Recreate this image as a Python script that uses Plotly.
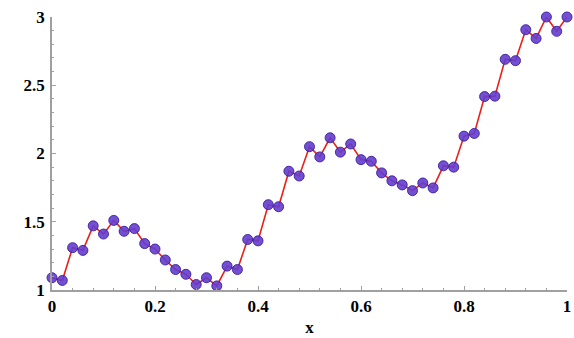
import plotly.graph_objects as go

x_vals = [round(i * 0.02, 2) for i in range(51)]
y_vals = [1.09, 1.07, 1.31, 1.29, 1.47, 1.41, 1.51, 1.43, 1.45, 1.34,
          1.30, 1.22, 1.15, 1.115, 1.04, 1.09, 1.03, 1.175, 1.15, 1.37,
          1.36, 1.625, 1.61, 1.87, 1.835, 2.05, 1.975, 2.115, 2.01, 2.07,
          1.955, 1.943, 1.858, 1.80, 1.77, 1.728, 1.784, 1.748, 1.91, 1.90,
          2.127, 2.147, 2.417, 2.42, 2.69, 2.68, 2.907, 2.843, 3.0, 2.895,
          3.0]

x_ticks = [0, 0.2, 0.4, 0.6, 0.8, 1]
x_ticklabels = ["0", "0.2", "0.4", "0.6", "0.8", "1"]
y_ticks = [1, 1.5, 2, 2.5, 3]
y_ticklabels = ["1", "1.5", "2", "2.5", "3"]

tfont = dict(family="Liberation Serif", size=17, color="black", weight="bold")

fig = go.Figure()
fig.add_trace(go.Scatter(
    x=x_vals, y=y_vals, mode="lines+markers",
    line=dict(color="#e8201a", width=1.6),
    marker=dict(size=10, color="rgba(100,60,205,0.9)",
                line=dict(color="rgba(60,30,160,0.9)", width=1)),
    cliponaxis=False, showlegend=False,
))

fig.update_layout(
    width=574, height=338,
    margin=dict(l=52, r=3, t=17, b=48),
    paper_bgcolor="white", plot_bgcolor="white",
)
fig.update_xaxes(
    range=[0, 1], tickvals=x_ticks, ticktext=x_ticklabels,
    showgrid=False, zeroline=False, showline=True, linecolor="#a0a0a0", linewidth=1.5,
    ticks="inside", ticklen=4, tickcolor="#a0a0a0",
    minor=dict(dtick=0.04, ticks="inside", ticklen=2, tickcolor="#a0a0a0"),
    tickfont=tfont, ticklabeloverflow="allow",
    title=dict(text="<b>x</b>", font=dict(family="Liberation Serif", size=17, color="black"), standoff=6),
)
fig.update_yaxes(
    range=[1, 3], tickvals=y_ticks, ticktext=y_ticklabels,
    showgrid=False, zeroline=False, showline=True, linecolor="#a0a0a0", linewidth=1.5,
    ticks="inside", ticklen=4, tickcolor="#a0a0a0",
    minor=dict(dtick=0.1, ticks="inside", ticklen=2, tickcolor="#a0a0a0"),
    tickfont=tfont, ticklabelstandoff=2,
)

fig.write_html("out.html")
